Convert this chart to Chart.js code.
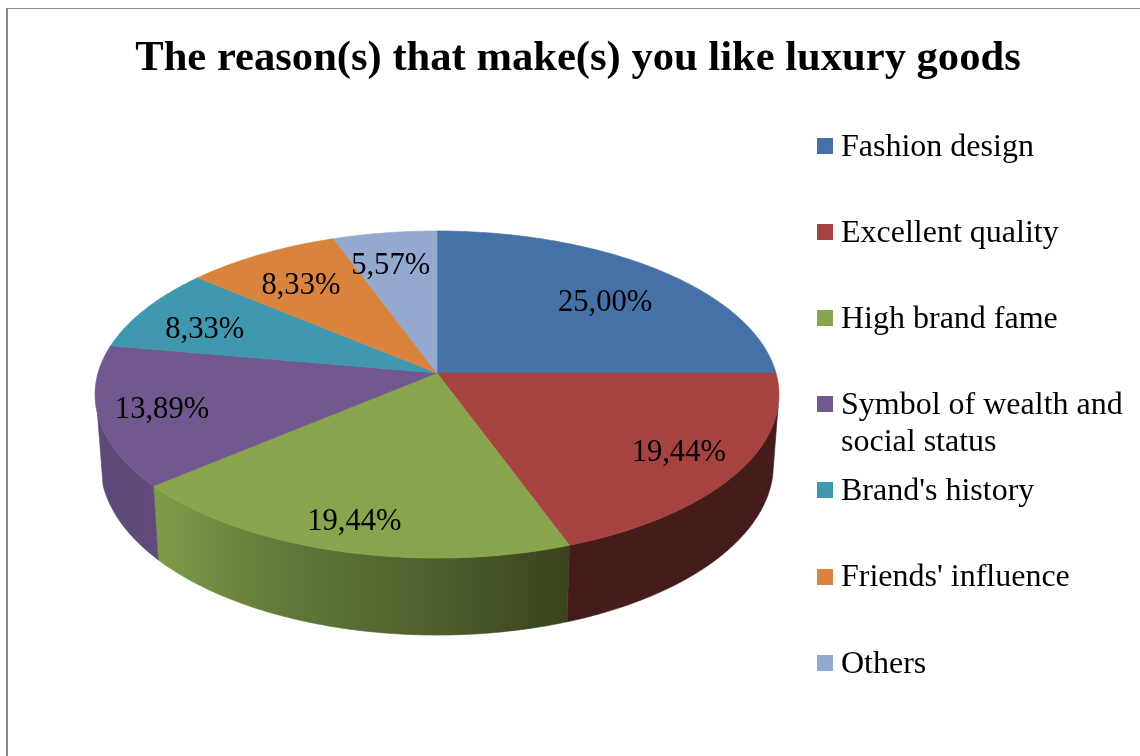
<!DOCTYPE html>
<html>
<head>
<meta charset="utf-8">
<title>Luxury goods</title>
<script src="https://cdn.jsdelivr.net/npm/chart.js@4"></script>
<style>
  html, body { margin: 0; background: #fff; }
  #wrap { position: relative; width: 1140px; height: 756px; overflow: hidden; }
</style>
</head>
<body>
<div id="wrap"><canvas id="pie" width="1140" height="756"></canvas></div>
<script>
const categories = [
  "Fashion design",
  "Excellent quality",
  "High brand fame",
  ["Symbol of wealth and", "social status"],
  "Brand's history",
  "Friends' influence",
  "Others"
];
const shares = [25.00, 19.44, 19.44, 13.89, 8.33, 8.33, 5.57];
const sliceColors = ["#4571A7", "#A64340", "#88A44D", "#71588E", "#4098AF", "#DA833C", "#93A9CF"];

// side wall shading, left to right; slices at the back have no visible wall
const wallColors = [
  null,
  ["#451C1A", "#451C1A"],
  ["#7F9C49", "#5F7738", "#4F602D", "#38431D"],
  ["#5D4977", "#624B7C"],
  null,
  null,
  null
];

// the disc is a circle seen in perspective, top rim and bottom rim
const topRim = { cx: 437, cy: 373, rx: 339, ry: 160.7, k: 0.1316 };
const bottomRim = { cx: 437, cy: 442, rx: 333.6, ry: 168, k: 0.13 };

// angles where the wall silhouette leaves the top rim
const wallFrom = 0.2;
const wallTo = Math.PI - 0.25;

// value labels sit on 3/4 of the radius, then get pushed a bit
const labelReach = 0.75;
const labelNudge = [[0, 10], [21, 7], [-10, 20], [-23, 5], [-11, 6], [-1, 4], [-6, 1]];

const serif = '"Liberation Serif", "Times New Roman", serif';
const labelFont = "30.6px " + serif;
const legendFont = "32px " + serif;

function project(rim, angle, reach = 1) {
  const u = Math.cos(angle) * reach;
  const v = Math.sin(angle) * reach;
  const d = 1 - rim.k * v;
  return { x: rim.cx + rim.rx * u / d, y: rim.cy + rim.ry * v / d };
}

function rimPoints(rim, from, to) {
  const steps = Math.max(2, Math.ceil((to - from) / 0.01));
  const pts = [];
  for (let i = 0; i <= steps; i++) {
    pts.push(project(rim, from + (to - from) * i / steps));
  }
  return pts;
}

function drawWall(ctx, arc, stops) {
  const from = Math.max(arc.startAngle, wallFrom);
  const to = Math.min(arc.endAngle, wallTo);
  const upper = rimPoints(topRim, from, to);
  const lower = rimPoints(bottomRim, from, to).reverse();
  const all = upper.concat(lower);
  const xs = all.map(p => p.x);
  const grad = ctx.createLinearGradient(Math.min(...xs), 0, Math.max(...xs), 0);
  stops.forEach((c, i) => grad.addColorStop(i / (stops.length - 1), c));
  ctx.beginPath();
  all.forEach((p, i) => i ? ctx.lineTo(p.x, p.y) : ctx.moveTo(p.x, p.y));
  ctx.closePath();
  ctx.fillStyle = grad;
  ctx.strokeStyle = grad;
  ctx.lineWidth = 0.6;
  ctx.fill();
  ctx.stroke();
}

function drawSlice(ctx, arc) {
  ctx.beginPath();
  ctx.moveTo(topRim.cx, topRim.cy);
  rimPoints(topRim, arc.startAngle, arc.endAngle).forEach(p => ctx.lineTo(p.x, p.y));
  ctx.closePath();
  ctx.fillStyle = arc.options.backgroundColor;
  ctx.strokeStyle = arc.options.backgroundColor;
  ctx.lineWidth = 0.6;
  ctx.fill();
  ctx.stroke();
}

// replaces the flat pie drawing with the tilted one, angles still come from the arcs
const tiltedPie = {
  id: "tiltedPie",
  beforeDraw(chart) {
    const ctx = chart.ctx;
    ctx.save();
    ctx.fillStyle = "#8A8A8A";
    ctx.fillRect(6, 8, 2, 748);
    ctx.fillStyle = "#8F8F8F";
    ctx.fillRect(6, 8, 1134, 1);
    ctx.restore();
  },
  beforeDatasetsDraw(chart) {
    const ctx = chart.ctx;
    const arcs = chart.getDatasetMeta(0).data;
    ctx.save();
    arcs.forEach((arc, i) => {
      if (wallColors[i]) drawWall(ctx, arc, wallColors[i]);
    });
    arcs.forEach(arc => drawSlice(ctx, arc));
    ctx.restore();
    return false;
  },
  afterDraw(chart) {
    const ctx = chart.ctx;
    const arcs = chart.getDatasetMeta(0).data;
    ctx.save();
    ctx.fillStyle = "#000";
    ctx.font = labelFont;
    ctx.textAlign = "center";
    ctx.textBaseline = "middle";
    arcs.forEach((arc, i) => {
      const mid = (arc.startAngle + arc.endAngle) / 2;
      const p = project(topRim, mid, labelReach);
      const text = shares[i].toFixed(2).replace(".", ",") + "%";
      ctx.fillText(text, p.x + labelNudge[i][0], p.y + labelNudge[i][1]);
    });

    // legend column
    ctx.font = legendFont;
    ctx.textAlign = "left";
    categories.forEach((name, i) => {
      const y = 146 + i * 86.1;
      ctx.fillStyle = sliceColors[i];
      ctx.fillRect(817, Math.round(y) - 8, 16, 16);
      ctx.fillStyle = "#000";
      [].concat(name).forEach((line, n) => ctx.fillText(line, 841, y + 1.5 + n * 37));
    });
    ctx.restore();
  }
};

new Chart(document.getElementById("pie"), {
  type: "pie",
  data: {
    labels: categories,
    datasets: [{ data: shares, backgroundColor: sliceColors, borderWidth: 0 }]
  },
  options: {
    responsive: false,
    animation: false,
    events: [],
    layout: { padding: { left: 16, top: 34 } },
    plugins: {
      legend: { display: false },
      tooltip: { enabled: false },
      title: {
        display: true,
        text: "The reason(s) that make(s) you like luxury goods",
        color: "#000",
        font: { family: serif, size: 42.6, weight: "bold", lineHeight: 1.15 },
        padding: { top: 0, bottom: 10 }
      }
    }
  },
  plugins: [tiltedPie]
});
</script>
</body>
</html>
